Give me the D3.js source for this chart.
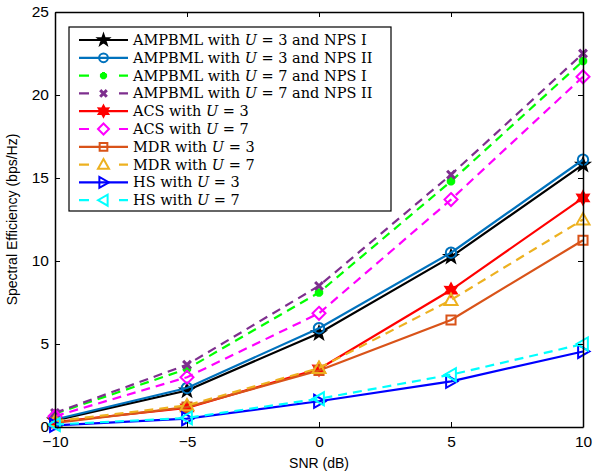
<!DOCTYPE html>
<html>
<head>
<meta charset="utf-8">
<script src="https://cdn.jsdelivr.net/npm/d3@7"></script>
<style>
body { margin: 0; background: #fff; }
svg text { font-family: "Liberation Sans", Arial, sans-serif; }
.leg text { font-family: "DejaVu Serif", serif; }
</style>
</head>
<body>
<div id="chart"></div>
<script>
var snr = [-10, -5, 0, 5, 10];
var xTicks = [-10, -5, 0, 5, 10];
var yTicks = [0, 5, 10, 15, 20, 25];

var names = [
	"AMPBML with |U| = 3 and NPS I",
	"AMPBML with |U| = 3 and NPS II",
	"AMPBML with |U| = 7 and NPS I",
	"AMPBML with |U| = 7 and NPS II",
	"ACS with |U| = 3",
	"ACS with |U| = 7",
	"MDR with |U| = 3",
	"MDR with |U| = 7",
	"HS with |U| = 3",
	"HS with |U| = 7"
];
var ampU3N1 = [0.4, 2.2, 5.65, 10.25, 15.8];
var ampU3N2 = [0.45, 2.35, 5.95, 10.5, 16.1];
var ampU7N1 = [0.8, 3.5, 8.1, 14.8, 22.05];
var ampU7N2 = [0.85, 3.75, 8.5, 15.2, 22.5];
var acsU3 = [0.3, 1.15, 3.5, 8.25, 13.8];
var acsU7 = [0.65, 3.0, 6.85, 13.7, 21.1];
var mdrU3 = [0.25, 1.2, 3.4, 6.45, 11.25];
var mdrU7 = [0.35, 1.3, 3.55, 7.65, 12.5];
var hsU3 = [0.1, 0.5, 1.55, 2.75, 4.55];
var hsU7 = [0.15, 0.55, 1.7, 3.15, 5.0];

var seriesVals = [ampU3N1, ampU3N2, ampU7N1, ampU7N2, acsU3, acsU7, mdrU3, mdrU7, hsU3, hsU7];
var colors = ["#000000", "#0072BD", "#00FF00", "#7E2F8E", "#FF0000", "#FF00FF", "#D95319", "#EDB120", "#0000FF", "#00FFFF"];
var dashed = [false, false, true, true, false, true, false, true, false, true];
var markers = ["star", "circle", "asterisk", "cross", "hexagram", "diamond", "square", "triUp", "triRight", "triLeft"];

(function() {
var width = 593, height = 475,
	mLeft = 55, mRight = 583, mTop = 12, mBottom = 427;

var svg = d3.select("#chart").append("svg")
	.attr("width", width)
	.attr("height", height);

var x = d3.scaleLinear().domain([-10, 10]).range([mLeft, mRight]);
var y = d3.scaleLinear().domain([0, 25]).range([mBottom, mTop]);

function markerPath(type, s) {
	var r = s / 2, p = [], i, a;
	switch (type) {
	case "star":
		for (i = 0; i < 10; i++) {
			a = -Math.PI / 2 + i * Math.PI / 5;
			var rr = i % 2 ? r * 0.4 : r * 1.0;
			p.push([rr * Math.cos(a), rr * Math.sin(a)]);
		}
		return "M" + p.join("L") + "Z";
	case "hexagram":
		for (i = 0; i < 12; i++) {
			a = -Math.PI / 2 + i * Math.PI / 6;
			var rh = i % 2 ? r * 0.55 : r;
			p.push([rh * Math.cos(a), rh * Math.sin(a)]);
		}
		return "M" + p.join("L") + "Z";
	case "circle":
		var rc = r * 0.8;
		return "M" + (-rc) + ",0A" + rc + "," + rc + " 0 1,0 " + rc + ",0A" + rc + "," + rc + " 0 1,0 " + (-rc) + ",0Z";
	case "diamond":
		return "M0," + (-r) + "L" + r + ",0L0," + r + "L" + (-r) + ",0Z";
	case "square":
		var q = r * 0.7;
		return "M" + (-q) + "," + (-q) + "H" + q + "V" + q + "H" + (-q) + "Z";
	case "triUp":
		return "M0," + (-r) + "L" + r + "," + (r * 0.75) + "L" + (-r) + "," + (r * 0.75) + "Z";
	case "triRight":
		return "M" + r + ",0L" + (-r * 0.75) + "," + r + "L" + (-r * 0.75) + "," + (-r) + "Z";
	case "triLeft":
		return "M" + (-r) + ",0L" + (r * 0.75) + "," + r + "L" + (r * 0.75) + "," + (-r) + "Z";
	case "cross":
		var c = r * 0.6;
		return "M" + (-c) + "," + (-c) + "L" + c + "," + c + "M" + (-c) + "," + c + "L" + c + "," + (-c);
	case "asterisk":
		var d = r * 0.65, e = d * 0.707;
		return "M0," + (-d) + "V" + d + "M" + (-d) + ",0H" + d +
			"M" + (-e) + "," + (-e) + "L" + e + "," + e + "M" + (-e) + "," + e + "L" + e + "," + (-e);
	}
}

function drawMarker(g, i, cx, cy, size) {
	var t = markers[i];
	var filled = (t === "star" || t === "hexagram");
	g.append("path")
		.attr("transform", "translate(" + cx + "," + cy + ")")
		.attr("d", markerPath(t, size))
		.attr("fill", filled ? colors[i] : "none")
		.attr("stroke", colors[i])
		.attr("stroke-width", t === "asterisk" || t === "cross" ? 3 : 2);
}

var line = d3.line()
	.x(function(d, j){ return x(snr[j]); })
	.y(function(d){ return y(d); });

var plot = svg.append("g");
seriesVals.forEach(function(vals, i) {
	var g = plot.append("g");
	g.append("path")
		.datum(vals)
		.attr("d", line)
		.attr("fill", "none")
		.attr("stroke", colors[i])
		.attr("stroke-width", 2.2)
		.attr("stroke-dasharray", dashed[i] ? "9,6" : null);
	vals.forEach(function(v, j) {
		drawMarker(g, i, x(snr[j]), y(v), 13);
	});
});

// box + ticks (inside, all 4 sides)
var axes = svg.append("g");
axes.append("g").attr("transform", "translate(0," + mBottom + ")")
	.call(d3.axisBottom(x).tickValues(xTicks).tickSizeInner(-5).tickSizeOuter(0).tickPadding(9)
		.tickFormat(function(d){ return d < 0 ? "\u2212" + Math.abs(d) : d; }));
axes.append("g").attr("transform", "translate(0," + mTop + ")")
	.call(d3.axisTop(x).tickValues(xTicks).tickSizeInner(-5).tickSizeOuter(0).tickFormat(""));
axes.append("g").attr("transform", "translate(" + mLeft + ",0)")
	.call(d3.axisLeft(y).tickValues(yTicks).tickSizeInner(-5).tickSizeOuter(0).tickPadding(6));
axes.append("g").attr("transform", "translate(" + mRight + ",0)")
	.call(d3.axisRight(y).tickValues(yTicks).tickSizeInner(-5).tickSizeOuter(0).tickFormat(""));
axes.selectAll(".domain").attr("stroke", "#000").attr("stroke-width", 1.5);
axes.selectAll(".tick line").attr("stroke", "#000");
axes.selectAll(".tick text").attr("font-size", 15.5).attr("fill", "#000")
	.attr("font-family", "Liberation Sans, Arial, sans-serif");

svg.append("text")
	.attr("x", (mLeft + mRight) / 2).attr("y", 468)
	.attr("text-anchor", "middle").attr("font-size", 14)
	.text("SNR (dB)");
svg.append("text")
	.attr("transform", "translate(17," + ((mTop + mBottom) / 2) + ") rotate(-90)")
	.attr("text-anchor", "middle").attr("font-size", 14)
	.text("Spectral Efficiency (bps/Hz)");

// legend
var leg = svg.append("g").attr("class", "leg");
leg.append("rect")
	.attr("x", 69).attr("y", 27).attr("width", 322).attr("height", 184)
	.attr("fill", "#fff").attr("stroke", "#000").attr("stroke-width", 1.2);
names.forEach(function(n, i) {
	var yy = 40 + i * 17.8;
	leg.append("line")
		.attr("x1", 79).attr("x2", 128).attr("y1", yy).attr("y2", yy)
		.attr("stroke", colors[i]).attr("stroke-width", 2.2)
		.attr("stroke-dasharray", dashed[i] ? "10,30" : null);
	drawMarker(leg, i, 103.5, yy, 11);
	var parts = n.split("|");
	var t = leg.append("text").attr("x", 133).attr("y", yy + 5).attr("font-size", 14.5);
	t.append("tspan").text(parts[0]);
	t.append("tspan").attr("font-style", "italic").text(parts[1]);
	t.append("tspan").text(parts[2]);
});
})();
</script>
</body>
</html>
